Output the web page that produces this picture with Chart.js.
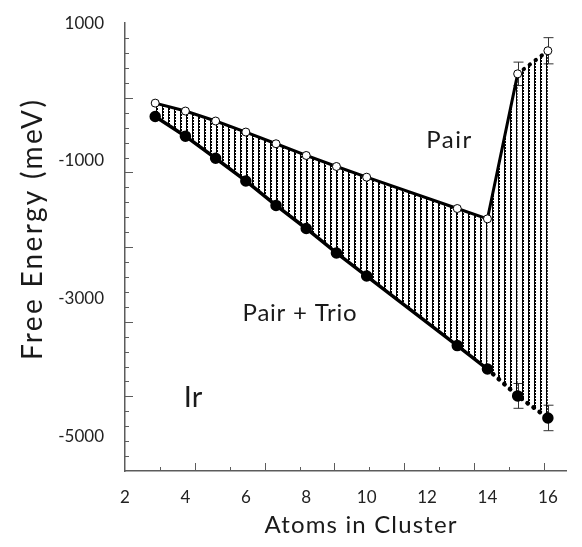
<!DOCTYPE html>
<html>
<head>
<meta charset="utf-8">
<script src="https://cdn.jsdelivr.net/npm/chart.js@4/dist/chart.umd.min.js"></script>
<style>
  html, body { margin: 0; padding: 0; background: #fff; }
  #wrap { width: 582px; height: 547px; }
</style>
</head>
<body>
<div id="wrap"><canvas id="chart" width="582" height="547"></canvas></div>
<script>
// Ir cluster free energies (meV)
const atoms = [3, 4, 5, 6, 7, 8, 9, 10, 13, 14, 15, 16];
const pairEnergy = [-160, -275, -420, -580, -750, -920, -1080, -1235, -1690, -1840, 265, 600];
const pairTrioEnergy = [-355, -640, -960, -1290, -1645, -1980, -2335, -2670, -3680, -4020, -4410, -4730];
const pairError = [0, 0, 0, 0, 0, 0, 0, 0, 0, 0, 170, 190];
const pairTrioError = [0, 0, 0, 0, 0, 0, 0, 0, 0, 0, 180, 185];

const xTickLabels = [2, 4, 6, 8, 10, 12, 14, 16];
const yTickLabels = [1000, -1000, -3000, -5000];

const FONT = "Lato, 'DejaVu Sans', sans-serif";
const AXIS = '#5c5c5c';

const canvas = document.getElementById('chart');

// vertical dotted hatching that fills the gap between the two curves
function makeHatch() {
  const tile = document.createElement('canvas');
  tile.width = 6;
  tile.height = 3;
  const g = tile.getContext('2d');
  g.fillStyle = '#000';
  g.fillRect(0, 0, 1, 3);
  g.fillRect(1, 0, 1, 2);
  return canvas.getContext('2d').createPattern(tile, 'repeat');
}

function spacedText(ctx, text, cx, cy, size, width) {
  ctx.font = size + 'px ' + FONT;
  ctx.letterSpacing = '0px';
  const natural = ctx.measureText(text).width;
  const sp = Math.max(0, (width - natural) / Math.max(1, text.length - 1));
  ctx.letterSpacing = sp + 'px';
  ctx.fillText(text, cx + sp / 2, cy);
  ctx.letterSpacing = '0px';
}

const errorBars = {
  id: 'errorBars',
  beforeDatasetsDraw(chart) {
    const { ctx, scales: { x, y } } = chart;
    ctx.save();
    ctx.strokeStyle = '#333';
    ctx.lineWidth = 1;
    [[pairEnergy, pairError], [pairTrioEnergy, pairTrioError]].forEach(([vals, errs]) => {
      atoms.forEach((a, i) => {
        if (!errs[i]) return;
        const px = Math.round(x.getPixelForValue(a)) + 0.5;
        const top = y.getPixelForValue(vals[i] + errs[i]);
        const bot = y.getPixelForValue(vals[i] - errs[i]);
        ctx.beginPath();
        ctx.moveTo(px, top); ctx.lineTo(px, bot);
        ctx.moveTo(px - 5, top); ctx.lineTo(px + 5, top);
        ctx.moveTo(px - 5, bot); ctx.lineTo(px + 5, bot);
        ctx.stroke();
      });
    });
    ctx.restore();
  }
};

// the original axes carry their own tick marks, unrelated to the labels
const oddTicks = {
  id: 'oddTicks',
  afterDraw(chart) {
    const { ctx, chartArea: a, scales: { x, y } } = chart;
    ctx.save();
    ctx.strokeStyle = AXIS;
    ctx.lineWidth = 1;
    const xStep = 2.311 / 2;
    for (let i = 1; ; i++) {
      const v = x.min + i * xStep;
      if (v > x.max) break;
      const px = Math.round(x.getPixelForValue(v)) + 0.5;
      const len = i % 2 === 0 ? 8 : 4;
      ctx.beginPath(); ctx.moveTo(px, a.bottom); ctx.lineTo(px, a.bottom - len); ctx.stroke();
    }
    const yStep = (y.max - y.min) / 30;
    for (let i = 1; i < 30; i++) {
      const v = y.max - i * yStep;
      const py = Math.round(y.getPixelForValue(v)) + 0.5;
      const len = i % 5 === 0 ? 8 : 4;
      ctx.beginPath(); ctx.moveTo(a.left, py); ctx.lineTo(a.left + len, py); ctx.stroke();
    }
    ctx.restore();
  }
};

const labels = {
  id: 'labels',
  afterDraw(chart) {
    const { ctx, chartArea: a, scales: { x, y } } = chart;
    ctx.save();
    ctx.fillStyle = '#1a1a1a';
    ctx.textAlign = 'center';
    ctx.textBaseline = 'middle';
    spacedText(ctx, 'Pair', x.getPixelForValue(12.72), y.getPixelForValue(-700), 24, 45);
    spacedText(ctx, 'Pair + Trio', x.getPixelForValue(7.78), y.getPixelForValue(-3210), 24, 114);
    spacedText(ctx, 'Ir', x.getPixelForValue(4.25), y.getPixelForValue(-4440), 29, 17);
    // axis titles
    spacedText(ctx, 'Atoms in Cluster', (a.left + a.right) / 2 + 15, a.bottom + 54, 24, 192);
    ctx.translate(33, (a.top + a.bottom) / 2 - 17);
    ctx.rotate(-Math.PI / 2);
    spacedText(ctx, 'Free Energy (meV)', 0, 0, 28, 260);
    ctx.restore();
  }
};

const hatch = makeHatch();
const tickFont = { family: FONT, size: 17 };

new Chart(canvas, {
  type: 'line',
  data: {
    datasets: [
      {
        label: 'Pair',
        data: atoms.map((a, i) => ({ x: a, y: pairEnergy[i] })),
        borderColor: '#000',
        borderWidth: 3,
        borderCapStyle: 'round',
        pointRadius: 4,
        pointBackgroundColor: '#fff',
        pointBorderColor: '#000',
        pointBorderWidth: 1,
        fill: '+1',
        backgroundColor: hatch,
        segment: {
          borderDash: c => c.p0.parsed.x >= 15 ? [0.5, 7] : undefined,
          borderWidth: c => c.p0.parsed.x >= 15 ? 4 : 3
        }
      },
      {
        label: 'Pair + Trio',
        data: atoms.map((a, i) => ({ x: a, y: pairTrioEnergy[i] })),
        borderColor: '#000',
        borderWidth: 3.5,
        borderCapStyle: 'round',
        pointRadius: 4,
        pointBackgroundColor: '#000',
        pointBorderColor: '#000',
        fill: false,
        segment: {
          borderDash: c => c.p0.parsed.x >= 14 ? [0.5, 7] : undefined,
          borderWidth: c => c.p0.parsed.x >= 14 ? 4.5 : 3.5
        }
      }
    ]
  },
  options: {
    responsive: false,
    animation: false,
    layout: { padding: { top: 17, right: 16, left: 0, bottom: 0 } },
    plugins: { legend: { display: false }, tooltip: { enabled: false } },
    scales: {
      x: {
        type: 'linear',
        min: 2,
        max: 16.6,
        afterBuildTicks: s => { s.ticks = xTickLabels.map(v => ({ value: v })); },
        afterFit: s => { s.height = 76; },
        ticks: { font: tickFont, color: '#222', padding: 8, maxRotation: 0, callback: v => String(v) },
        grid: { display: false },
        border: { display: true, color: AXIS, width: 1.5 }
      },
      y: {
        type: 'linear',
        min: -5500,
        max: 1000,
        afterBuildTicks: s => { s.ticks = yTickLabels.map(v => ({ value: v })); },
        afterFit: s => { s.width = 125; },
        ticks: { font: tickFont, color: '#222', padding: 13, callback: v => String(v) },
        grid: { display: false },
        border: { display: true, color: AXIS, width: 1.5 }
      }
    }
  },
  plugins: [errorBars, oddTicks, labels]
});
</script>
</body>
</html>
